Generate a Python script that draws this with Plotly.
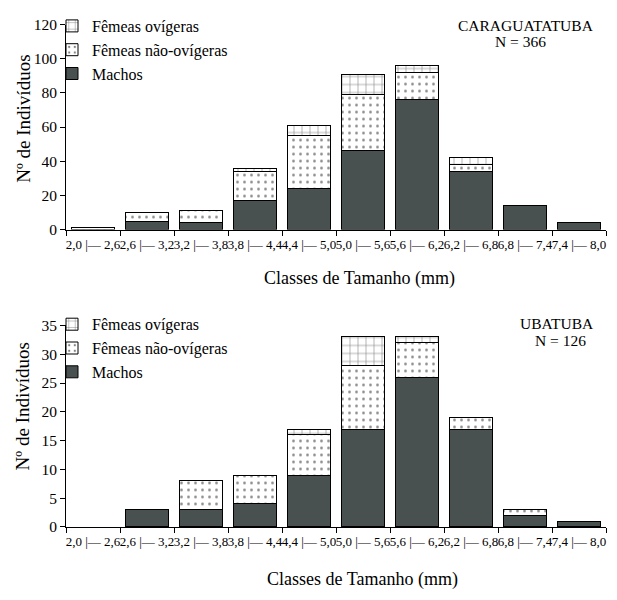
import plotly.graph_objects as go

classes = ["2,0 |— 2,6", "2,6 |— 3,2", "3,2 |— 3,8", "3,8 |— 4,4", "4,4 |— 5,0",
           "5,0 |— 5,6", "5,6 |— 6,2", "6,2 |— 6,8", "6,8 |— 7,4", "7,4 |— 8,0"]

# CARAGUATATUBA (N = 366)
car_machos = [0, 5, 4, 17, 24, 46, 76, 34, 14, 4]
car_fnov = [1, 5, 7, 17, 31, 33, 16, 4, 0, 0]
car_fov = [0, 0, 0, 2, 6, 12, 4, 4, 0, 0]

# UBATUBA (N = 126)
uba_machos = [0, 3, 3, 4, 9, 17, 26, 17, 2, 1]
uba_fnov = [0, 0, 5, 5, 7, 11, 6, 2, 1, 0]
uba_fov = [0, 0, 0, 0, 1, 5, 1, 0, 0, 0]

series_names = ["Machos", "Fêmeas não-ovígeras", "Fêmeas ovígeras"]

FONT = "Liberation Serif"
BLACK = "black"

styles = [
    dict(color="#485050", line=dict(color=BLACK, width=1)),
    dict(color="white", line=dict(color=BLACK, width=1),
         pattern=dict(shape=".", fgcolor=BLACK, bgcolor="white", size=7, solidity=0.12)),
    dict(color="white", line=dict(color=BLACK, width=1),
         pattern=dict(shape="+", fgcolor=BLACK, bgcolor="white", size=8, solidity=0.14)),
]

fig = go.Figure()

for vals, xa, ya, lg in [((car_machos, car_fnov, car_fov), "x", "y", "legend"),
                          ((uba_machos, uba_fnov, uba_fov), "x2", "y2", "legend2")]:
    for name, v, st in zip(series_names, vals, styles):
        fig.add_trace(go.Bar(x=classes, y=[val if val else None for val in v],
                             name=name, marker=st, xaxis=xa, yaxis=ya, legend=lg))

W, H = 617, 600
xdom = [66 / W, 606 / W]
axis_common = dict(showline=True, linecolor=BLACK, linewidth=1, ticks="outside",
                   tickcolor=BLACK, ticklen=5, showgrid=False, zeroline=False,
                   tickfont=dict(family=FONT, size=15.5, color=BLACK))

xcommon = dict(axis_common)
xcommon.update(tickson="boundaries", tickangle=0, ticklen=5, ticklabelstandoff=3,
               tickfont=dict(family=FONT, size=13, color=BLACK),
               range=[-0.5, 9.5])

ycommon = dict(axis_common)


def px_x(x):
    return x / W


def px_y(y):
    return 1 - y / H


ann_font = dict(family=FONT, size=15.5, color=BLACK)
title_font = dict(family=FONT, size=18, color=BLACK)
ytitle_font = dict(family=FONT, size=19, color=BLACK)

annotations = [
    dict(text="CARAGUATATUBA", x=px_x(526), y=px_y(16.5), font=ann_font),
    dict(text="N = 366", x=px_x(520), y=px_y(33), font=ann_font),
    dict(text="UBATUBA", x=px_x(557), y=px_y(324), font=ann_font),
    dict(text="N = 126", x=px_x(560), y=px_y(341), font=ann_font),
    dict(text="Classes de Tamanho (mm)", x=px_x(360), y=px_y(277), font=title_font),
    dict(text="Classes de Tamanho (mm)", x=px_x(362), y=px_y(587), font=title_font),
    dict(text="Nº de Indivíduos", x=px_x(24), y=px_y(113), font=ytitle_font, textangle=-90),
    dict(text="Nº de Indivíduos", x=px_x(22), y=px_y(409), font=ytitle_font, textangle=-90),
]
for a in annotations:
    a.update(xref="paper", yref="paper", xanchor="center", yanchor="middle", showarrow=False)

legend_common = dict(xanchor="left", yanchor="top", traceorder="reversed",
                     font=dict(family=FONT, size=16, color=BLACK),
                     bgcolor="rgba(0,0,0,0)", itemwidth=30, tracegroupgap=0)

fig.update_layout(
    width=W, height=H,
    margin=dict(l=0, r=0, t=0, b=0),
    paper_bgcolor="white", plot_bgcolor="white",
    barmode="stack", bargap=0.2,
    font=dict(family=FONT, color=BLACK),
    xaxis=dict(xcommon, domain=xdom, anchor="y"),
    yaxis=dict(ycommon, domain=[px_y(227), px_y(16)], range=[0, 120], dtick=20, anchor="x"),
    xaxis2=dict(xcommon, domain=xdom, anchor="y2"),
    yaxis2=dict(ycommon, domain=[px_y(533), px_y(325.7)], range=[0, 35], dtick=5, anchor="x2"),
    legend=dict(legend_common, x=px_x(52), y=px_y(0)),
    legend2=dict(legend_common, x=px_x(52), y=px_y(307)),
    annotations=annotations,
)

fig.write_html("out.html", config={"displayModeBar": False},
               post_script="document.body.style.margin='0';")
